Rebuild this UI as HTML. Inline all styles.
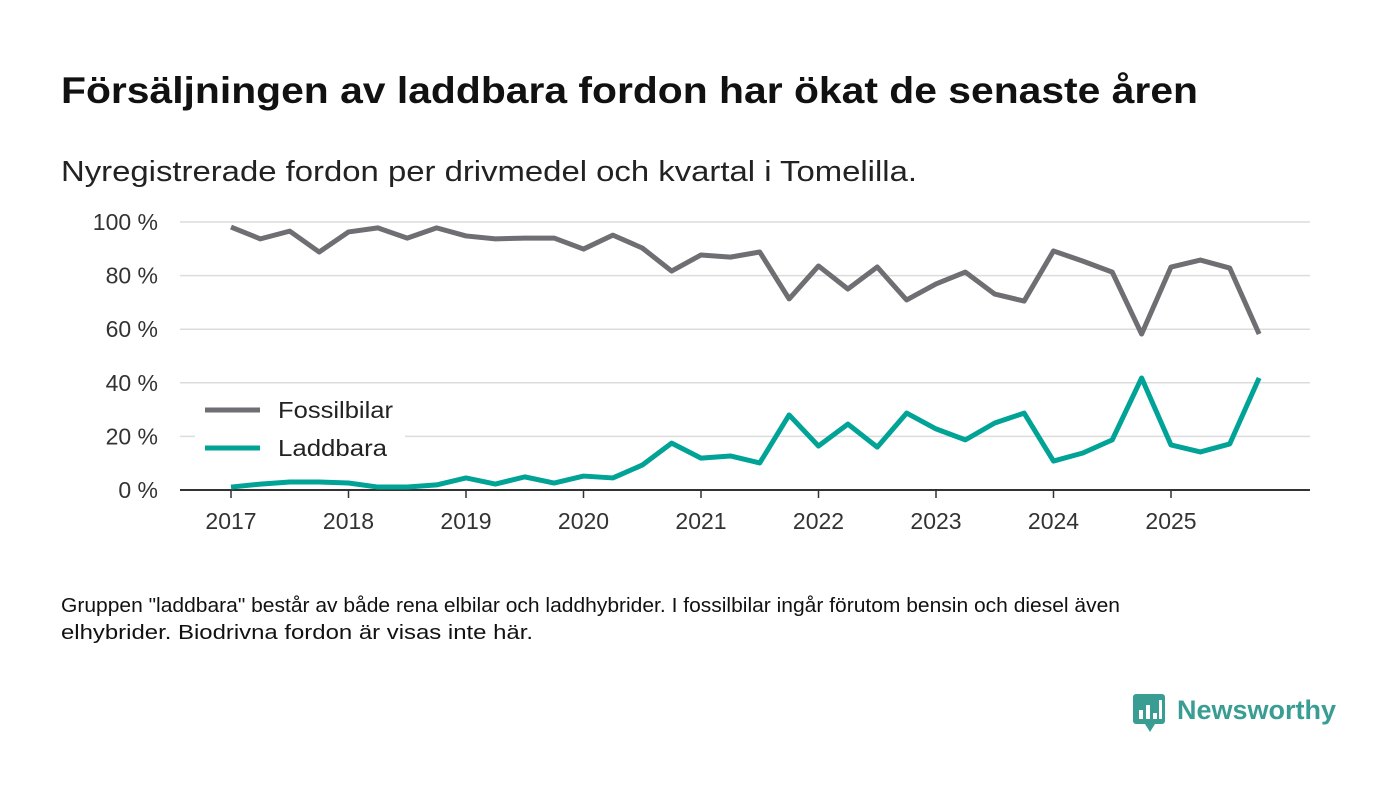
<!DOCTYPE html>
<html><head><meta charset="utf-8"><style>
body{margin:0;background:#fff;width:1400px;height:793px;overflow:hidden;font-family:"Liberation Sans",sans-serif;}
</style></head><body>
<svg width="1400" height="793" xmlns="http://www.w3.org/2000/svg">
<text x="61" y="103" font-size="37" font-weight="bold" fill="#111" textLength="1137" lengthAdjust="spacingAndGlyphs">Försäljningen av laddbara fordon har ökat de senaste åren</text>
<text x="61" y="181" font-size="29" fill="#222" textLength="856" lengthAdjust="spacingAndGlyphs">Nyregistrerade fordon per drivmedel och kvartal i Tomelilla.</text>
<g id="grid"></g><g id="axes"></g><g id="lines"></g>
<g>
<rect x="195" y="393" width="210" height="75" fill="#fff"/>
<line x1="205" y1="410" x2="260" y2="410" stroke="#6e6e73" stroke-width="5"/>
<text x="278" y="418" font-size="23" fill="#222" textLength="115" lengthAdjust="spacingAndGlyphs">Fossilbilar</text>
<line x1="205" y1="448" x2="260" y2="448" stroke="#00a396" stroke-width="5"/>
<text x="278" y="456" font-size="23" fill="#222" textLength="109" lengthAdjust="spacingAndGlyphs">Laddbara</text>
</g>
<text x="61" y="612" font-size="20" fill="#111" textLength="1059" lengthAdjust="spacingAndGlyphs">Gruppen "laddbara" består av både rena elbilar och laddhybrider. I fossilbilar ingår förutom bensin och diesel även</text>
<text x="61" y="639" font-size="20" fill="#111" textLength="472" lengthAdjust="spacingAndGlyphs">elhybrider. Biodrivna fordon är visas inte här.</text>
<g>
<rect x="1133" y="694" width="32" height="30" rx="3" fill="#3a9d94"/>
<polygon points="1145,724 1155,724 1150,732" fill="#3a9d94"/>
<rect x="1139" y="710" width="4" height="9" fill="#fff"/><rect x="1146" y="705" width="4" height="14" fill="#fff"/><rect x="1153" y="713" width="4" height="6" fill="#fff"/><rect x="1159" y="700" width="3" height="19" fill="#fff"/>
<text x="1177" y="719" font-size="27" font-weight="bold" fill="#3a9d94">Newsworthy</text>
</g>
</svg>
<script>
const years=["2017","2018","2019","2020","2021","2022","2023","2024","2025"];
const yTicks=[0,20,40,60,80,100];
const fossil=[98.1,93.7,96.6,88.8,96.3,97.8,94.0,97.8,94.8,93.7,94.0,94.0,89.9,95.1,90.3,81.7,87.7,86.9,88.8,71.3,83.6,75.0,83.2,70.9,76.9,81.3,73.1,70.5,89.2,85.4,81.3,58.2,83.2,85.8,82.8,58.2];
const laddbara=[1.1,2.2,3.0,3.0,2.6,1.1,1.1,1.9,4.5,2.2,4.9,2.6,5.2,4.5,9.3,17.5,11.9,12.7,10.1,28.0,16.4,24.6,16.0,28.7,22.8,18.7,25.0,28.7,10.8,13.8,18.7,41.8,16.8,14.2,17.2,41.8];
const NS="http://www.w3.org/2000/svg";
const xq=i=>231+i*(940/32);
const yv=v=>490-v*2.68;
function mk(tag,attrs,parent){const e=document.createElementNS(NS,tag);for(const k in attrs)e.setAttribute(k,attrs[k]);parent.appendChild(e);return e;}
const grid=document.getElementById('grid'),axes=document.getElementById('axes'),lines=document.getElementById('lines');
yTicks.forEach(t=>{
  if(t>0){const g=mk('line',{x1:180,x2:1310,y1:yv(t),y2:yv(t),stroke:'#dcdcdc','stroke-width':1.5},grid);
  
  }
  const l=mk('text',{x:158,y:yv(t)+8,'font-size':23,fill:'#333','text-anchor':'end'},axes);l.textContent=t+' %';
  
  
});
const ax=mk('line',{x1:180,x2:1310,y1:490,y2:490,stroke:'#333','stroke-width':2},axes);


years.forEach((y,i)=>{
  const x=xq(i*4);
  mk('line',{x1:x,x2:x,y1:490,y2:498,stroke:'#333','stroke-width':1.5},axes);
  const t=mk('text',{x:x,y:529,'font-size':23,fill:'#333','text-anchor':'middle'},axes);t.textContent=y;
  
  
});
function line(data,color,name){
  const p=mk('polyline',{points:data.map((v,i)=>xq(i)+','+yv(v)).join(' '),fill:'none',stroke:color,'stroke-width':5,'stroke-linejoin':'round'},lines);
  
  
}
line(fossil,'#6e6e73','fossil-line');
line(laddbara,'#00a396','laddbara-line');
</script>
</body></html>
